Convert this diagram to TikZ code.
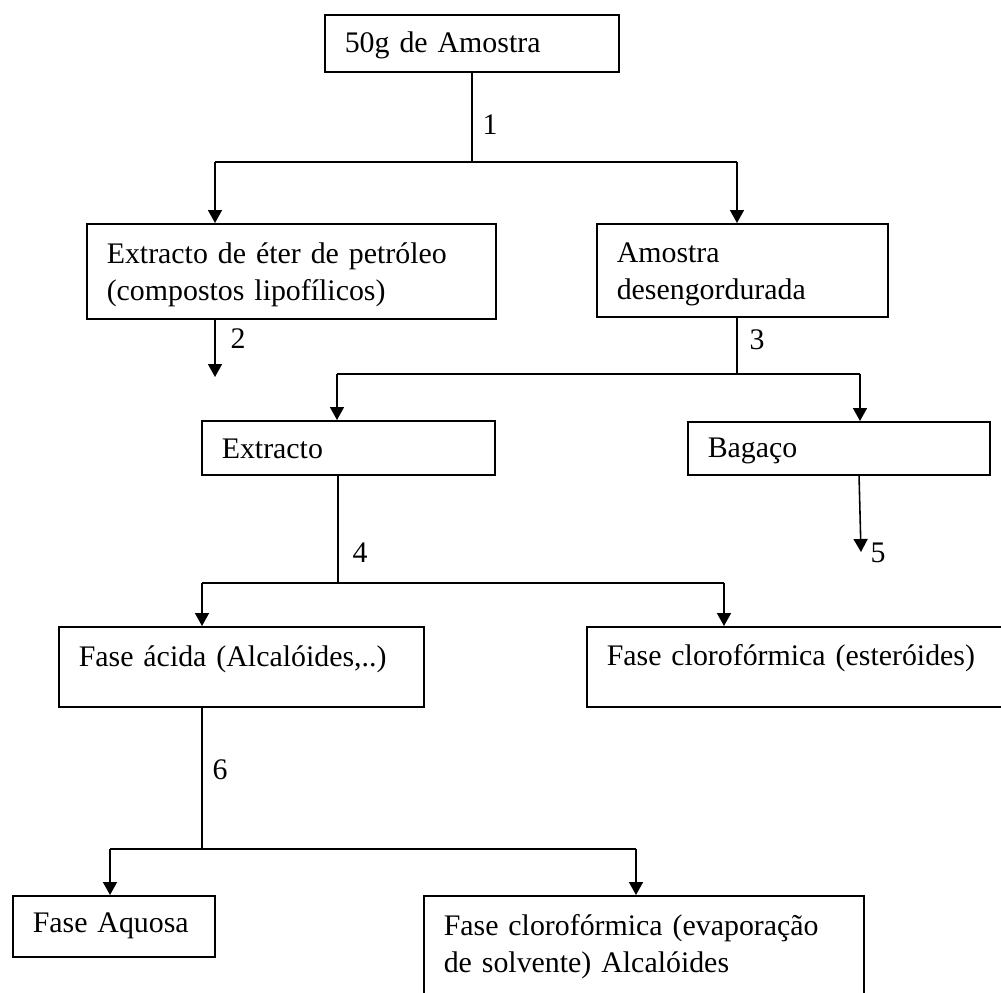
\documentclass[tikz,border=0pt]{standalone}
\usepackage{fontspec}
\setmainfont{Liberation Serif}
\usepackage{tikz}
\usetikzlibrary{arrows.meta}

\begin{document}
\begin{tikzpicture}[x=0.02cm,y=-0.02cm,line width=0.9pt,
    stagebox/.style={draw,anchor=north west,align=left,inner xsep=4mm,inner ysep=0pt,
      font=\fontsize{17pt}{21pt}\selectfont},
    flow/.style={-{Triangle[width=2.8mm,length=2.6mm]}},
    numlabel/.style={inner sep=0pt,font=\fontsize{17pt}{21pt}\selectfont}]
      \useasboundingbox (0,0) rectangle (1001,992);
      \clip (0,0) rectangle (1001,992);
      % boxes
      \node[stagebox,text width=50.8mm,text height=7.6mm,text depth=3.8mm] (am) at (324,14) {50g de Amostra};
      \node[stagebox,text width=73.8mm,text height=8mm,text depth=11mm] (eter) at (86,223) {Extracto de éter de petróleo\\(compostos lipofílicos)};
      \node[stagebox,text width=50.2mm,text height=7.8mm,text depth=10.8mm] (desg) at (596,223) {Amostra\\desengordurada};
      \node[stagebox,text width=50.6mm,text height=7.6mm,text depth=3.2mm] (extr) at (201,420) {Extracto};
      \node[stagebox,text width=52.4mm,text height=7.2mm,text depth=3.4mm] (bag) at (687,421) {Bagaço};
      \node[stagebox,text width=65mm,text height=8mm,text depth=8mm] (acida) at (58,626) {Fase ácida (Alcalóides,..)};
      \node[stagebox,text width=76.8mm,text height=7.8mm,text depth=8.2mm] (clor) at (586,626) {Fase clorofórmica (esteróides)};
      \node[stagebox,text width=32.4mm,text height=7.4mm,text depth=4.8mm] (aq) at (12,895) {Fase Aquosa};
      \node[stagebox,text width=80mm,text height=8mm,text depth=13mm] (evap) at (423,895) {Fase clorofórmica (evaporação\\de solvente) Alcalóides};
      % branch points
      \coordinate (j1l) at (215,162);
      \coordinate (j1r) at (737,162);
      \coordinate (e2) at (215,377);
      \coordinate (j2) at (737,374);
      \coordinate (j2l) at (337,374);
      \coordinate (j2r) at (860,374);
      \coordinate (s5) at (859,474);
      \coordinate (e5) at (861,552);
      \coordinate (j3) at (338,583);
      \coordinate (j3l) at (202,583);
      \coordinate (j3r) at (724,583);
      \coordinate (j4) at (202,849);
      \coordinate (j4l) at (110,849);
      \coordinate (j4r) at (636,849);
      % connectors
      \draw (am.south) -- (am.south |- j1l);
      \draw (j1l) -- (j1r);
      \draw[flow] (j1l) -- (j1l |- eter.north);
      \draw[flow] (j1r) -- (j1r |- desg.north);
      \draw[flow] (e2 |- eter.south) -- (e2);
      \draw (j2 |- desg.south) -- (j2);
      \draw (j2l) -- (j2r);
      \draw[flow] (j2l) -- (j2l |- extr.north);
      \draw[flow] (j2r) -- (j2r |- bag.north);
      \draw[flow] (s5) -- (e5);
      \draw (j3 |- extr.south) -- (j3);
      \draw (j3l) -- (j3r);
      \draw[flow] (j3l) -- (j3l |- acida.north);
      \draw[flow] (j3r) -- (j3r |- clor.north);
      \draw (j4 |- acida.south) -- (j4);
      \draw (j4l) -- (j4r);
      \draw[flow] (j4l) -- (j4l |- aq.north);
      \draw[flow] (j4r) -- (j4r |- evap.north);
      % step numbers
      \node[numlabel] (n1) at (490,125) {1};
      \node[numlabel] (n2) at (238,339) {2};
      \node[numlabel] (n3) at (757,340) {3};
      \node[numlabel] (n4) at (360,553) {4};
      \node[numlabel] (n5) at (878,553) {5};
      \node[numlabel] (n6) at (220,770) {6};
\end{tikzpicture}
\end{document}
